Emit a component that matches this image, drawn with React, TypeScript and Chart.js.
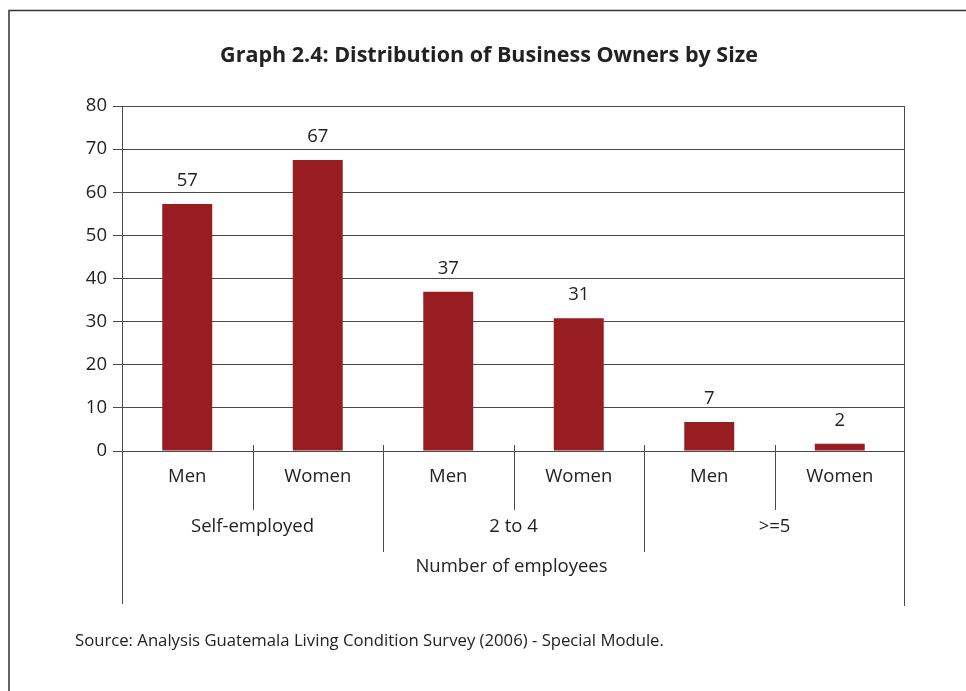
import React, { useEffect, useRef } from "react";
import { Chart, registerables } from "chart.js";

Chart.register(...registerables);

const categories = ["Men", "Women", "Men", "Women", "Men", "Women"];
const groups = ["Self-employed", "2 to 4", ">=5"];
const values = [57.3, 67.5, 36.9, 30.8, 6.7, 1.7];
const valueLabels = ["57", "67", "37", "31", "7", "2"];
const yMin = 0;
const yMax = 80;
const yStep = 10;
const titleText = "Graph 2.4: Distribution of Business Owners by Size";
const axisTitle = "Number of employees";
const sourceText = "Source: Analysis Guatemala Living Condition Survey (2006) - Special Module.";

const FONT = "'Open Sans', 'Noto Sans', sans-serif";
const BAR = "#981d22";
const INK = "#222222";
const LINE = "#4a4a4a";
const LABEL_SIZE = 18.5;

const extras = {
  id: "extras",
  afterDraw(chart: any) {
    const ctx = chart.ctx;
    const x = chart.scales.x;
    const area = chart.chartArea;
    ctx.save();
    // outer frame
    ctx.strokeStyle = "#333333";
    ctx.lineWidth = 1.5;
    ctx.beginPath();
    ctx.moveTo(9, 691);
    ctx.lineTo(9, 10.5);
    ctx.lineTo(966, 10.5);
    ctx.stroke();

    // title
    ctx.fillStyle = INK;
    ctx.font = `bold 21.5px ${FONT}`;
    ctx.textAlign = "center";
    ctx.textBaseline = "middle";
    ctx.fillText(titleText, 489, 56);

    // value labels
    const meta = chart.getDatasetMeta(0);
    ctx.font = `${LABEL_SIZE}px ${FONT}`;
    meta.data.forEach((bar: any, i: number) => {
      ctx.fillText(valueLabels[i], bar.x, bar.y - 23);
    });

    // separators
    ctx.strokeStyle = LINE;
    ctx.lineWidth = 1;
    const n = categories.length;
    for (let i = 0; i < n - 1; i++) {
      const bx = Math.round((x.getPixelForValue(i) + x.getPixelForValue(i + 1)) / 2) + 0.5;
      const bottom = i % 2 === 1 ? 552 : 510;
      ctx.beginPath();
      ctx.moveTo(bx, area.bottom - 6);
      ctx.lineTo(bx, bottom);
      ctx.stroke();
    }
    // left and right edges
    ctx.beginPath();
    ctx.moveTo(Math.round(area.left) + 0.5, area.top);
    ctx.lineTo(Math.round(area.left) + 0.5, 604);
    ctx.moveTo(Math.round(area.right) - 0.5, area.top);
    ctx.lineTo(Math.round(area.right) - 0.5, 606);
    ctx.stroke();

    // group labels
    ctx.fillStyle = INK;
    ctx.font = `${LABEL_SIZE}px ${FONT}`;
    groups.forEach((g, gi) => {
      const cx = (x.getPixelForValue(gi * 2) + x.getPixelForValue(gi * 2 + 1)) / 2;
      ctx.fillText(g, cx, 527);
    });
    ctx.fillText(axisTitle, (area.left + area.right) / 2 - 2, 567);

    // source
    ctx.font = `16.7px ${FONT}`;
    ctx.textAlign = "left";
    ctx.fillText(sourceText, 75, 641);
    ctx.restore();
  },
};

export default function App() {
  const ref = useRef<HTMLCanvasElement>(null);
  useEffect(() => {
    if (!ref.current) return;
    const chart = new Chart(ref.current, {
      type: "bar",
      data: {
        labels: categories,
        datasets: [
          {
            data: values,
            backgroundColor: BAR,
            borderWidth: 0,
            categoryPercentage: 1,
            barPercentage: 0.383,
          },
        ],
      },
      options: {
        responsive: false,
        animation: false,
        layout: { padding: { top: 106, right: 61, left: 0, bottom: 0 } },
        plugins: {
          legend: { display: false },
          title: { display: false },
          tooltip: { enabled: false },
        },
        scales: {
          x: {
            grid: { display: false, drawTicks: false },
            border: { display: false },
            ticks: {
              color: INK,
              font: { family: FONT, size: LABEL_SIZE },
              padding: 15,
              maxRotation: 0,
            },
            afterFit: (s: any) => {
              s.height = 240;
            },
          },
          y: {
            min: yMin,
            max: yMax,
            ticks: {
              stepSize: yStep,
              color: INK,
              font: { family: FONT, size: LABEL_SIZE },
              padding: 6,
            },
            grid: {
              color: LINE,
              lineWidth: 1,
              drawTicks: true,
              tickLength: 9,
              tickColor: LINE,
            },
            border: { display: true, color: LINE, width: 1 },
            afterFit: (s: any) => {
              s.width = 122;
            },
          },
        },
      },
      plugins: [extras],
    });
    return () => chart.destroy();
  }, []);
  return (
    <div style={{ position: "absolute", left: 0, top: 0, width: 966, height: 691, background: "#fff" }}>
      <canvas ref={ref} width={966} height={691} style={{ display: "block" }} />
    </div>
  );
}
